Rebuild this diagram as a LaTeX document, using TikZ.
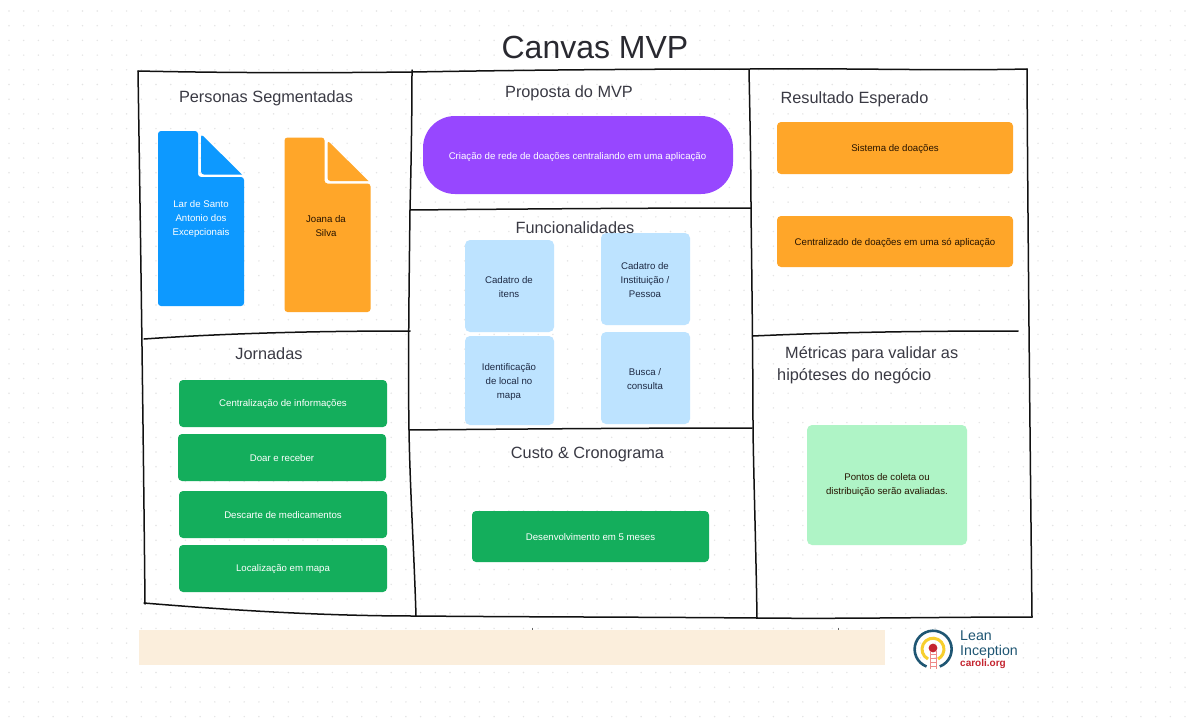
\documentclass[tikz,border=0pt]{standalone}
\usepackage{fontspec}
\setmainfont{Liberation Sans}
\definecolor{ink}{HTML}{111111}
\definecolor{head}{HTML}{3A3A44}
\definecolor{dotc}{HTML}{E4E4E4}
\definecolor{docblue}{HTML}{0D99FF}
\definecolor{docorange}{HTML}{FFA629}
\definecolor{grn}{HTML}{14AE5C}
\definecolor{lblue}{HTML}{BDE3FF}
\definecolor{lgreen}{HTML}{AFF4C6}
\definecolor{purp}{HTML}{9747FF}
\definecolor{beige}{HTML}{FBEEDC}
\definecolor{navy}{HTML}{1E2A44}
\definecolor{lidark}{HTML}{1F5673}
\definecolor{lired}{HTML}{C4242F}
\definecolor{liyellow}{HTML}{F7CF2E}
\definecolor{lipink}{HTML}{EE8A8A}
\newcommand{\bx}[6]{\node[#6,minimum width={(#4-#2)*1pt},minimum height={(#5-#3)*1pt}] (#1) at ({(#2+#4)/2},{(#3+#5)/2}) {};}
\tikzset{
  sketch/.style={draw=ink,line width=1.5pt,line cap=round,line join=round},
  card/.style={inner sep=0pt,rounded corners=4pt},
  greencard/.style={card,fill=grn},
  orangecard/.style={card,fill=docorange},
  bluecard/.style={inner sep=0pt,rounded corners=5pt,fill=lblue},
  heading/.style={font=\fontsize{16.3}{22}\selectfont,text=head,inner sep=0pt,yshift=-2pt},
  small/.style={font=\fontsize{9.65}{14}\selectfont,inner sep=0pt,align=center,yshift=-1.5pt},
  wht/.style={small,text=white},
  dark/.style={small,text=navy},
  blk/.style={small,text=black!85!orange},
}
\begin{document}
\begin{tikzpicture}[x=1pt,y=-1pt]
\useasboundingbox (0,0) rectangle (1186,720);
\fill[white] (0,0) rectangle (1186,720);
% dotted board
\foreach \i in {0,...,80}{\foreach \j in {0,...,48}{
  \fill[dotc] ({9+14.7*\i},{11+14.7*\j}) circle (0.8);
}}
% footer band
\bx{band}{139}{630}{885}{665}{inner sep=0pt,fill=beige}
\coordinate (tickA) at (532,627.5);
\coordinate (tickAb) at (532,630);
\coordinate (tickB) at (838,627.5);
\coordinate (tickBb) at (838,630);
\draw[black!60,line width=0.4pt] (tickA) -- (tickAb);
\draw[black!60,line width=0.4pt] (tickB) -- (tickBb);
% sketched frame
\draw[sketch] (138,71) .. controls (230,73) and (320,73) .. (412,72) .. controls (530,70) and (640,69) .. (750,69) .. controls (850,68) and (940,71) .. (1027,69);
\draw[sketch] (138,71) .. controls (140,200) and (143,400) .. (145,604);
\draw[sketch] (144,603) .. controls (240,611) and (330,616) .. (416,616) .. controls (530,617) and (640,617) .. (757,618) .. controls (850,619) and (940,617) .. (1032,617);
\draw[sketch] (1027,69) .. controls (1028,250) and (1030,430) .. (1032,617);
\draw[sketch] (412,70) .. controls (412,120) and (411,170) .. (410,210) .. controls (409,290) and (408,370) .. (409,430) .. controls (410,490) and (414,550) .. (416,616);
\draw[sketch] (749,70) .. controls (750,120) and (751,170) .. (751,208) .. controls (752,290) and (753,370) .. (753,430) .. controls (754,490) and (756,550) .. (757,618);
\draw[sketch] (144,339) .. controls (230,333) and (320,331) .. (410,331);
\draw[sketch] (410,210) .. controls (520,209) and (640,208) .. (751,208);
\draw[sketch] (409,430) .. controls (520,429) and (640,428) .. (752,428);
\draw[sketch] (753,336) .. controls (840,332) and (930,331) .. (1018,331);
% persona documents
\fill[docblue,rounded corners=3pt] (158,131) -- (198,131) -- (198,177) -- (244,177) -- (244,306) -- (158,306) -- cycle;
\fill[docblue] (201,134) -- (242,174.5) -- (205,174.5) [rounded corners=3pt] -- (201,174.5) -- cycle;
\node[wht] (doca) at (201,218) {Lar de Santo\\Antonio dos\\Excepcionais};
\fill[docorange,rounded corners=3pt] (284.5,137.5) -- (324.5,137.5) -- (324.5,183.5) -- (370.5,183.5) -- (370.5,312) -- (284.5,312) -- cycle;
\fill[docorange] (327.5,140.5) -- (368.5,181) -- (331.5,181) [rounded corners=3pt] -- (327.5,181) -- cycle;
\node[blk] (docb) at (326,224.5) {Joana da\\Silva};
% proposta
\bx{prop}{423}{116}{733}{194}{inner sep=0pt,fill=purp,rounded corners=32pt}
\node[wht] (tprop) at (577.5,155.5) {Criação de rede de doações centraliando em uma aplicação};
% resultado
\bx{resa}{777}{122}{1013}{174}{orangecard}
\node[blk] (tresa) at (895,148) {Sistema de doações};
\bx{resb}{777}{216}{1013}{267}{orangecard}
\node[blk] (tresb) at (895,241) {Centralizado de doações em uma só aplicação};
% funcionalidades
\bx{fa}{465}{240}{554}{332}{bluecard}
\node[dark] (tfa) at (509,285.5) {Cadatro de\\itens};
\bx{fb}{601}{233}{690}{325}{bluecard}
\node[dark] (tfb) at (645,279) {Cadatro de\\Instituição /\\Pessoa};
\bx{fc}{465}{336}{554}{425}{bluecard}
\node[dark] (tfc) at (509,381) {Identificação\\de local no\\mapa};
\bx{fd}{601}{332}{690}{424}{bluecard}
\node[dark] (tfd) at (645,378) {Busca /\\consulta};
% jornadas
\bx{ja}{179}{380}{387}{427}{greencard}
\node[wht] (tja) at (283,403) {Centralização de informações};
\bx{jb}{178}{434}{386}{481}{greencard}
\node[wht] (tjb) at (282,457) {Doar e receber};
\bx{jc}{179}{491}{387}{538}{greencard}
\node[wht] (tjc) at (283,514) {Descarte de medicamentos};
\bx{jd}{179}{545}{387}{592}{greencard}
\node[wht] (tjd) at (283,568) {Localização em mapa};
% custo
\bx{cu}{472}{511}{709}{562}{greencard}
\node[wht] (tcu) at (590.5,536) {Desenvolvimento em 5 meses};
% metricas
\bx{me}{807}{425}{967}{545}{inner sep=0pt,fill=lgreen,rounded corners=5pt}
\node[blk] (tme) at (887,484) {Pontos de coleta ou\\distribuição serão avaliadas.};
% title and headings
\node[font=\fontsize{32}{40}\selectfont,text=head!70!black,inner sep=0pt] (title) at (595,47) {Canvas MVP};
\node[heading] (hpersonas) at (266,96.5) {Personas Segmentadas};
\node[heading] (hproposta) at (569,91) {Proposta do MVP};
\node[heading] (hresultado) at (854.5,97.5) {Resultado Esperado};
\node[heading] (hfunc) at (575,226) {Funcionalidades};
\node[heading] (hjorn) at (269,352) {Jornadas};
\node[heading] (hcusto) at (587.5,452) {Custo \& Cronograma};
\node[heading,anchor=west,align=left] (hmetr) at (777,363) {\hspace*{8pt}Métricas para validar as\\hipóteses do negócio};
% logo
\draw[lidark,line width=2.6pt] (926.5,666.5) arc[start angle=111,delta angle=318,radius=18.5];
\draw[liyellow,line width=3pt] (928,659) arc[start angle=117,delta angle=306,radius=11];
\fill[lired] (933,648) circle (4.4);
\draw[lipink,line width=0.8pt] (930,651) -- (930,669) (936,651) -- (936,669)
  (930,654) -- (936,654) (930,658) -- (936,658) (930,662) -- (936,662) (930,666) -- (936,666);
\node[anchor=west,inner sep=0pt,text=lidark,font=\fontsize{14.2}{15}\selectfont] (lilean) at (960,636) {Lean};
\node[anchor=west,inner sep=0pt,text=lidark,font=\fontsize{14.2}{15}\selectfont] (liinc) at (960,651.5) {Inception};
\node[anchor=west,inner sep=0pt,text=lired,font=\bfseries\fontsize{10}{10}\selectfont] (licar) at (960,663.5) {caroli.org};
\end{tikzpicture}
\end{document}
